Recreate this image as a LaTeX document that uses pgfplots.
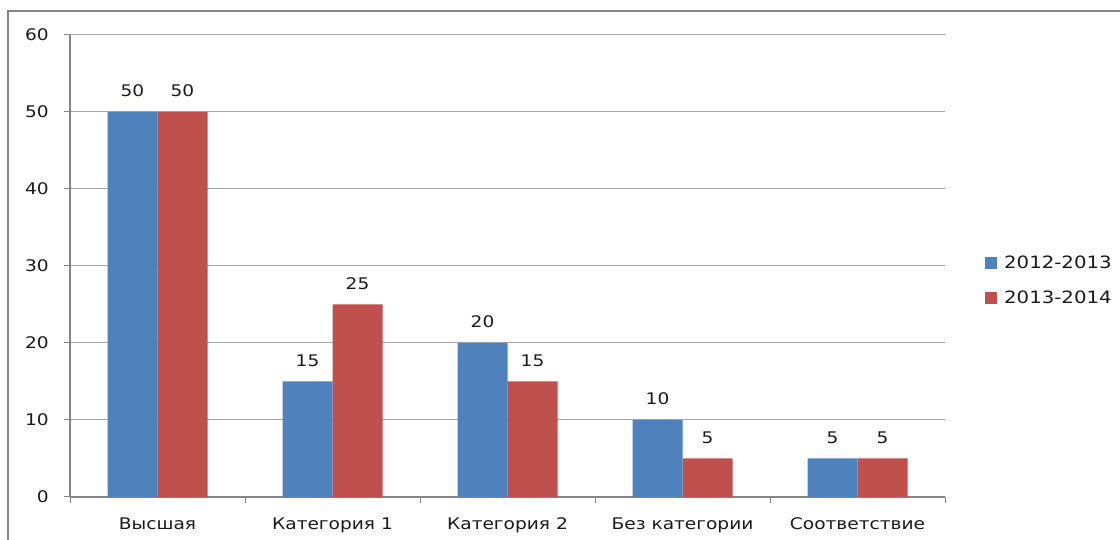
\documentclass[border=0pt]{standalone}
\usepackage{fontspec}
\setmainfont{DejaVu Sans}[FakeStretch=1.16]
\usepackage{pgfplots}
\pgfplotsset{compat=1.18}
\definecolor{blueS}{HTML}{4F81BD}
\definecolor{redS}{HTML}{C0504D}
\definecolor{gridc}{HTML}{A6A6A6}
\definecolor{axc}{HTML}{868686}
\definecolor{txt}{HTML}{1A1A1A}
\begin{document}
\fontsize{16bp}{19bp}\selectfont
\begin{tikzpicture}[x=1bp,y=1bp]
\path[use as bounding box] (0,0) rectangle (1120,540);
\draw[axc, line width=1.5bp] (8,0) -- (8,529) -- (1120,529);
\begin{axis}[
  at={(70bp,43bp)}, anchor=south west,
  scale only axis, width=875bp, height=462bp,
  xmin=-0.5, xmax=4.5, ymin=0, ymax=60,
  ytick={0,10,...,60},
  xtick={0,1,2,3,4},
  xticklabels={Высшая, Категория 1, Категория 2, Без категории, Соответствие},
  minor xtick={-0.5,0.5,...,4.5},
  axis x line*=bottom, axis y line*=left,
  ymajorgrids, major grid style={gridc, line width=1bp},
  tick align=outside,
  major tick length=6bp, minor tick length=6bp,
  every major x tick/.append style={draw=none},
  axis line style={axc, line width=1.2bp},
  tick style={axc, line width=1bp},
  /pgf/number format/assume math mode=true,
  ticklabel style={font=\fontsize{16bp}{19bp}\selectfont, text=txt, inner sep=0pt},
  yticklabel style={anchor=east},
  yticklabel shift=15bp,
  xticklabel style={anchor=north, text height=12bp},
  xticklabel shift=14bp,
  ybar=0pt, bar width=50bp,
  enlarge x limits=false,
  nodes near coords,
  every node near coord/.append style={font=\fontsize{16bp}{19bp}\selectfont, text=txt, inner sep=0pt, anchor=south, yshift=15bp},
  legend cell align=left,
  legend style={draw=none, fill=none, at={(1.0457,0.527)}, anchor=north west, inner sep=0pt,
    font=\fontsize{17bp}{20bp}\selectfont, text=txt, row sep=16bp,
    /tikz/every odd column/.append style={column sep=5bp}},
  legend image code/.code={\fill[#1] (0bp,-6bp) rectangle (12bp,6bp);},
]
\addplot[fill=blueS, draw=none] coordinates {(0,50) (1,15) (2,20) (3,10) (4,5)};
\addplot[fill=redS, draw=none] coordinates {(0,50) (1,25) (2,15) (3,5) (4,5)};
\legend{2012-2013, 2013-2014}
\end{axis}
\end{tikzpicture}
\end{document}
